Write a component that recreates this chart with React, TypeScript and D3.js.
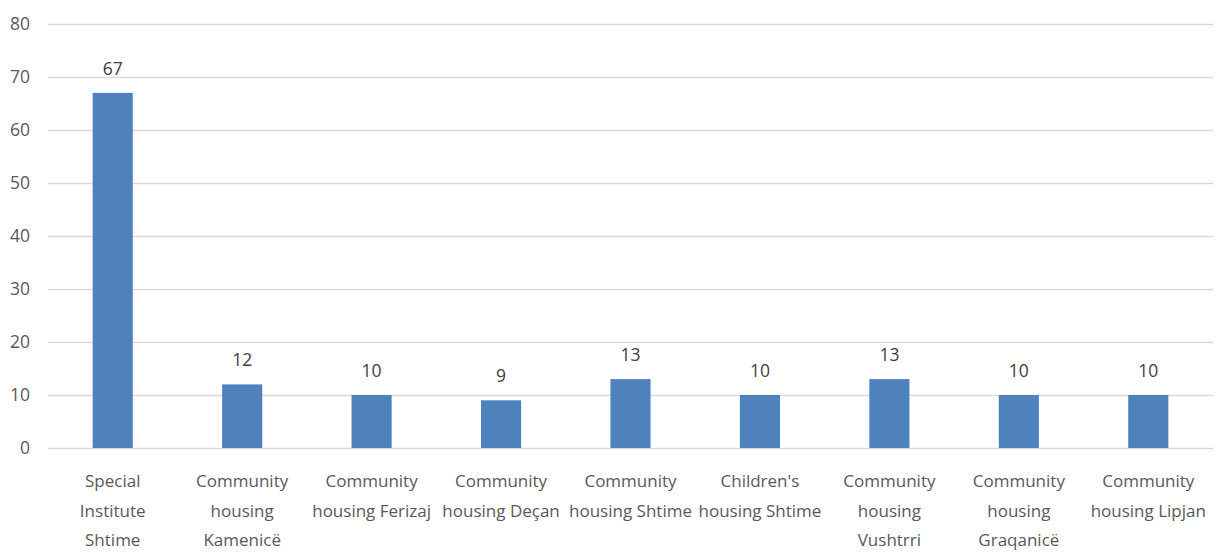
import React, { useEffect, useRef } from 'react';
import * as d3 from 'd3';

const categories = [
  'Special\nInstitute\nShtime',
  'Community\nhousing\nKamenicë',
  'Community\nhousing Ferizaj',
  'Community\nhousing Deçan',
  'Community\nhousing Shtime',
  "Children's\nhousing Shtime",
  'Community\nhousing\nVushtrri',
  'Community\nhousing\nGraqanicë',
  'Community\nhousing Lipjan',
];

const values = [67, 12, 10, 9, 13, 10, 13, 10, 10];

const yTicks = [0, 10, 20, 30, 40, 50, 60, 70, 80];

const WIDTH = 1217;
const HEIGHT = 553;
const margin = { top: 24, right: 4, bottom: 105, left: 48 };
const FONT = '"Open Sans", sans-serif';
const TEXT = '#595959';

export default function App() {
  const ref = useRef<SVGSVGElement>(null);

  useEffect(() => {
    const svg = d3.select(ref.current);
    svg.selectAll('*').remove();

    const innerW = WIDTH - margin.left - margin.right;
    const innerH = HEIGHT - margin.top - margin.bottom;

    const x = d3
      .scaleBand()
      .domain(categories)
      .range([0, innerW])
      .paddingInner(0.69)
      .paddingOuter(0.345);

    const y = d3.scaleLinear().domain([0, 80]).range([innerH, 0]);

    const g = svg.append('g').attr('transform', `translate(${margin.left},${margin.top})`);

    // gridlines
    g.selectAll('line.grid')
      .data(yTicks)
      .enter()
      .append('line')
      .attr('class', 'grid')
      .attr('x1', 0)
      .attr('x2', innerW)
      .attr('y1', (d) => y(d) + 0.5)
      .attr('y2', (d) => y(d) + 0.5)
      .attr('stroke', '#d9d9d9')
      .attr('stroke-width', 1.3);

    // y tick labels
    g.selectAll('text.ytick')
      .data(yTicks)
      .enter()
      .append('text')
      .attr('class', 'ytick')
      .attr('x', -18)
      .attr('y', (d) => y(d))
      .attr('dy', '0.36em')
      .attr('text-anchor', 'end')
      .attr('font-family', FONT)
      .attr('font-size', 17.5)
      .attr('fill', TEXT)
      .text((d) => d);

    // bars
    g.selectAll('rect.bar')
      .data(values)
      .enter()
      .append('rect')
      .attr('class', 'bar')
      .attr('x', (_d, i) => x(categories[i]))
      .attr('y', (d) => y(d))
      .attr('width', x.bandwidth())
      .attr('height', (d) => innerH - y(d))
      .attr('fill', '#4f81bd');

    // value labels
    g.selectAll('text.val')
      .data(values)
      .enter()
      .append('text')
      .attr('class', 'val')
      .attr('x', (_d, i) => x(categories[i]) + x.bandwidth() / 2)
      .attr('y', (d) => y(d) - 18)
      .attr('text-anchor', 'middle')
      .attr('font-family', FONT)
      .attr('font-size', 17.5)
      .attr('fill', '#404040')
      .text((d) => d);

    // category labels
    const labels = g
      .selectAll('text.cat')
      .data(categories)
      .enter()
      .append('text')
      .attr('class', 'cat')
      .attr('text-anchor', 'middle')
      .attr('font-family', FONT)
      .attr('font-size', 17)
      .attr('fill', TEXT)
      .attr('transform', (d) => `translate(${x(d) + x.bandwidth() / 2},${innerH + 39})`);

    labels.each(function (d) {
      const t = d3.select(this);
      d.split('\n').forEach((line, i) => {
        t.append('tspan').attr('x', 0).attr('y', i * 29.5).text(line);
      });
    });
  }, []);

  return (
    <svg
      ref={ref}
      width={WIDTH}
      height={HEIGHT}
      style={{ position: 'absolute', left: 0, top: 0, background: '#fff' }}
    />
  );
}
